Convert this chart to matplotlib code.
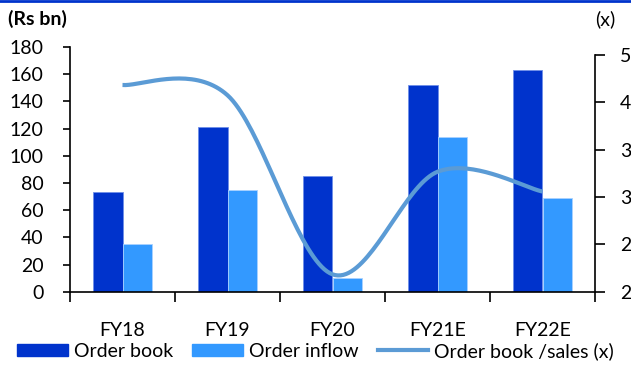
import numpy as np
import matplotlib
matplotlib.use("Agg")
import matplotlib.pyplot as plt
from matplotlib.lines import Line2D
from matplotlib.patches import Patch

plt.rcParams['font.family'] = ['Lato', 'DejaVu Sans']

categories = ["FY18", "FY19", "FY20", "FY21E", "FY22E"]
order_book = [73, 121, 85, 152, 163]
order_inflow = [35, 75, 10, 114, 69]
book_to_sales = [4.62, 4.49, 2.22, 3.52, 3.27]

left_ticks = [0, 20, 40, 60, 80, 100, 120, 140, 160, 180]
right_ticks = [2.0, 2.6, 3.2, 3.8, 4.4, 5.0]

DARK = "#0033CC"
LIGHT = "#3399FF"
LINE = "#5B9BD5"


def smooth(xs, ys, n=40):
    """Catmull-Rom style smoothing through the given points."""
    p = np.column_stack([xs, ys]).astype(float)
    ext = np.vstack([p[0], p, p[-1]])
    out = []
    for i in range(1, len(ext) - 2):
        p0, p1, p2, p3 = ext[i - 1], ext[i], ext[i + 1], ext[i + 2]
        c1 = p1 + (p2 - p0) / 6.0
        c2 = p2 - (p3 - p1) / 6.0
        t = np.linspace(0, 1, n)[:, None]
        seg = ((1 - t) ** 3) * p1 + 3 * ((1 - t) ** 2) * t * c1 \
            + 3 * (1 - t) * t ** 2 * c2 + t ** 3 * p2
        out.append(seg if i == 1 else seg[1:])
    s = np.vstack(out)
    return s[:, 0], s[:, 1]


W, H = 631, 365
fig = plt.figure(figsize=(W / 100, H / 100), dpi=100)
x0, x1, ybot = 70, 595, 291.7
ax = fig.add_axes([x0 / W, (H - ybot) / H, (x1 - x0) / W, (ybot - 47) / H])

x = np.arange(len(categories))
bw = 0.28
ax.bar(x - bw / 2, order_book, width=bw, color=DARK, edgecolor="#6f8fe8",
       linewidth=0.6, zorder=2)
ax.bar(x + bw / 2, order_inflow, width=bw, color=LIGHT, edgecolor="#a9d2ff",
       linewidth=0.6, zorder=2)

ax.set_xlim(-0.5, len(categories) - 0.5)
ax.set_ylim(0, 180)
ax.set_yticks(left_ticks)
ax.tick_params(axis="y", direction="out", length=5, width=1.2, pad=14,
               labelsize=14, colors="black")
ax.set_xticks(x)
ax.set_xticklabels(categories)
ax.tick_params(axis="x", which="major", length=0, pad=22, labelsize=14)
ax.set_xticks(np.arange(-0.5, len(categories)), minor=True)
ax.tick_params(axis="x", which="minor", direction="out", length=7, width=1.2)
for side in ["top", "right"]:
    ax.spines[side].set_visible(False)
for side in ["left", "bottom"]:
    ax.spines[side].set_linewidth(1.2)

# secondary axis for the ratio line (slightly shorter scale)
ax2 = fig.add_axes([x0 / W, (H - ybot) / H, (x1 - x0) / W, (ybot - 55) / H],
                   sharex=ax)
ax2.patch.set_visible(False)
ax2.set_ylim(2.0, 5.0)
ax2.yaxis.tick_right()
ax2.set_yticks(right_ticks)
ax2.set_yticklabels([f"{v:.1f}" for v in right_ticks])
ax2.tick_params(axis="y", direction="out", length=7, width=1.2, pad=11,
                labelsize=14)
ax2.tick_params(axis="x", which="both", bottom=False, labelbottom=False)
for side in ["top", "left", "bottom"]:
    ax2.spines[side].set_visible(False)
ax2.spines["right"].set_linewidth(1.2)

sx, sy = smooth(x, book_to_sales)
ax2.plot(sx, sy, color=LINE, linewidth=3, solid_capstyle="butt", zorder=3)

fig.text(8 / W, 1 - 19 / H, "(Rs bn)", fontsize=14, fontweight="bold",
         va="center", ha="left")
fig.text(595 / W, 1 - 19 / H, "(x)", fontsize=14, va="center", ha="left")

fig.add_artist(Line2D([0, 1], [1 - 1 / H, 1 - 1 / H], transform=fig.transFigure,
                      color=DARK, linewidth=2))

handles = [Patch(facecolor=DARK, edgecolor=DARK),
           Patch(facecolor=LIGHT, edgecolor=LIGHT),
           Line2D([0], [0], color=LINE, linewidth=3)]
labels = ["Order book", "Order inflow", "Order book /sales (x)"]
fig.legend(handles, labels, loc="center", bbox_to_anchor=(0.5, 1 - 351 / H),
           ncol=3, frameon=False, fontsize=14, handlelength=2.6,
           handleheight=0.6, handletextpad=0.3, columnspacing=1.0,
           borderaxespad=0)

fig.savefig("out.png", dpi=100)
